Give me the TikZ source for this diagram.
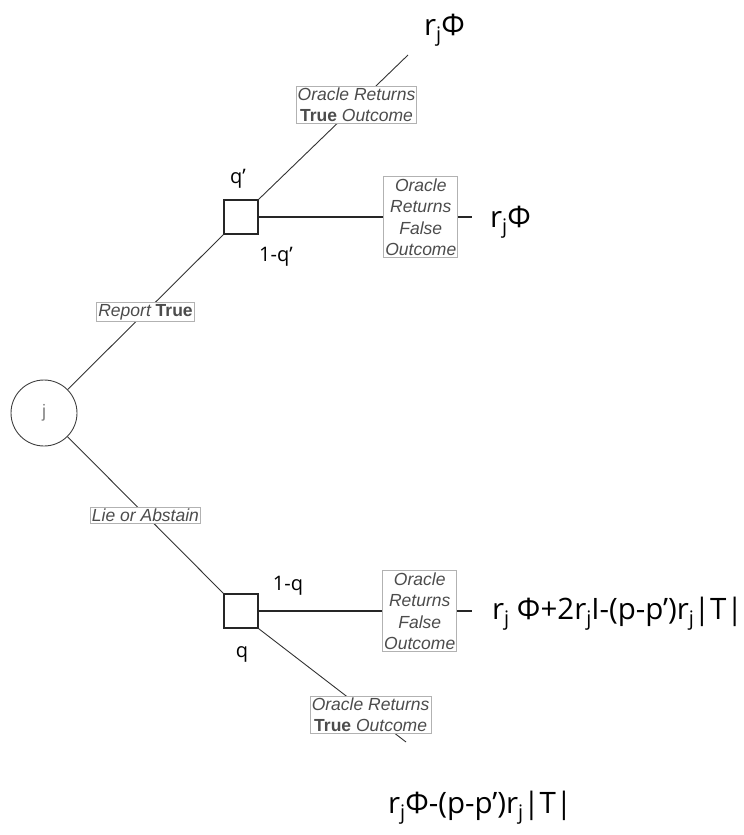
\documentclass[tikz,border=0pt]{standalone}
\usepackage{fontspec}
\setmainfont{Liberation Sans}
\newfontfamily\formfont{Open Sans}
\newcommand\sj{\raisebox{-0.4ex}{\fontsize{20}{20}\selectfont j}}
\begin{document}
\begin{tikzpicture}[x=1pt,y=-1pt,
  edge/.style={draw=black!80,line width=0.9pt},
  hedge/.style={draw=black!85,line width=1.3pt},
  lab/.style={draw=black!30,fill=white,font=\fontsize{17.5}{21.5}\selectfont\itshape,text=black!70,inner sep=1.5pt,align=center},
  chance/.style={draw=black!85,line width=1.3pt,minimum size=34pt,inner sep=0pt},
  dec/.style={circle,draw=black!75,line width=0.9pt,minimum size=66pt,inner sep=0pt,font=\fontsize{18}{18}\selectfont,text=black!50},
  prob/.style={font=\formfont\fontsize{20}{20}\selectfont},
  pay/.style={font=\formfont\fontsize{29.5}{29.5}\selectfont,inner sep=0pt}]
\useasboundingbox (0,0) rectangle (744,835);
\node[dec] (j) at (44,413) {j};
\node[chance] (s1) at (241,217) {};
\node[chance] (s2) at (241,611) {};
\coordinate (e1) at (408,55);
\coordinate (e2) at (472,217);
\coordinate (e3) at (472,611);
\coordinate (e4) at (406,742);
% edges
\draw[edge] (j) -- (s1.south west) node[lab,pos=0.5] (l1) {Report \textbf{\upshape True}};
\draw[edge] (j) -- (s2.north west) node[lab,pos=0.5] (l2) {Lie or Abstain};
\draw[edge] (s1.north east) -- (e1) node[lab,pos=0.655] (l3) {Oracle Returns\\\textbf{\upshape True} Outcome};
\draw[hedge] (s1.east) -- (e2) node[lab,pos=0.76] (l4) {Oracle\\Returns\\False\\Outcome};
\draw[hedge] (s2.east) -- (e3) node[lab,pos=0.755] (l5) {Oracle\\Returns\\False\\Outcome};
\draw[edge] (s2.south east) -- (e4) node[lab,pos=0.76] (l6) {Oracle Returns\\\textbf{\upshape True} Outcome};
% probabilities
\node[prob] (q1) at (238,179) {q’};
\node[prob] (q2) at (276,257) {1-q’};
\node[prob] (q3) at (288,586) {1-q};
\node[prob] (q4) at (242,654) {q};
% payoffs
\node[pay,anchor=west] (p1) at (424,30) {r\sj Φ};
\node[pay,anchor=west] (p2) at (490,222) {r\sj Φ};
\node[pay,anchor=west] (p3) at (492,614) {r\sj\ Φ+2r\sj I-(p-p’)r\sj |T|};
\node[pay,anchor=west] (p4) at (388,808) {r\sj Φ-(p-p’)r\sj |T|};
\end{tikzpicture}
\end{document}
